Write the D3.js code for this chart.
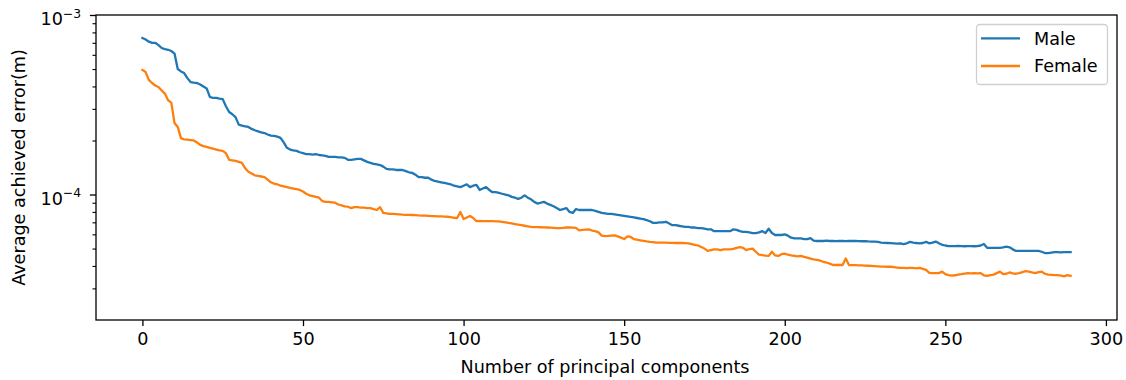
<!DOCTYPE html>
<html>
<head>
<meta charset="utf-8">
<script src="https://cdn.jsdelivr.net/npm/d3@7/dist/d3.min.js"></script>
<style>
  html, body { margin: 0; padding: 0; background: #fff; }
  svg { display: block; }
  text { font-family: "DejaVu Sans", sans-serif; fill: #000; }
</style>
</head>
<body>
<svg id="chart" width="1126" height="380"></svg>
<script>
// ---- data (values in metres) ----
const seriesNames = ["Male", "Female"];
const male = [
7.45e-4,7.30e-4,7.10e-4,7.00e-4,7.00e-4,6.80e-4,6.55e-4,6.45e-4,6.40e-4,6.30e-4,
6.10e-4,5.00e-4,4.85e-4,4.75e-4,4.45e-4,4.23e-4,4.20e-4,4.18e-4,4.10e-4,4.00e-4,
3.90e-4,3.50e-4,3.45e-4,3.45e-4,3.42e-4,3.40e-4,3.10e-4,2.88e-4,2.80e-4,2.70e-4,
2.45e-4,2.42e-4,2.40e-4,2.38e-4,2.32e-4,2.28e-4,2.25e-4,2.22e-4,2.20e-4,2.16e-4,
2.13e-4,2.12e-4,2.10e-4,2.07e-4,1.95e-4,1.82e-4,1.78e-4,1.76e-4,1.75e-4,1.72e-4,
1.70e-4,1.68e-4,1.68e-4,1.67e-4,1.68e-4,1.66e-4,1.65e-4,1.64e-4,1.62e-4,1.62e-4,
1.62e-4,1.61e-4,1.61e-4,1.60e-4,1.56e-4,1.56e-4,1.57e-4,1.58e-4,1.58e-4,1.55e-4,
1.52e-4,1.50e-4,1.48e-4,1.47e-4,1.46e-4,1.43e-4,1.39e-4,1.38e-4,1.38e-4,1.37e-4,
1.37e-4,1.37e-4,1.35e-4,1.33e-4,1.32e-4,1.29e-4,1.25e-4,1.25e-4,1.24e-4,1.24e-4,
1.21e-4,1.19e-4,1.18e-4,1.17e-4,1.16e-4,1.15e-4,1.14e-4,1.12e-4,1.11e-4,1.10e-4,
1.12e-4,1.14e-4,1.10e-4,1.12e-4,1.13e-4,1.06e-4,1.08e-4,1.10e-4,1.06e-4,1.03e-4,
1.03e-4,1.02e-4,1.01e-4,1.00e-4,0.99e-4,0.97e-4,0.96e-4,0.945e-4,0.96e-4,0.99e-4,
0.96e-4,0.94e-4,0.91e-4,0.89e-4,0.90e-4,0.91e-4,0.89e-4,0.875e-4,0.86e-4,0.84e-4,
0.82e-4,0.83e-4,0.84e-4,0.80e-4,0.79e-4,0.83e-4,0.82e-4,0.82e-4,0.82e-4,0.82e-4,
0.82e-4,0.81e-4,0.80e-4,0.79e-4,0.785e-4,0.78e-4,0.78e-4,0.775e-4,0.77e-4,0.765e-4,
0.76e-4,0.755e-4,0.75e-4,0.745e-4,0.74e-4,0.735e-4,0.73e-4,0.72e-4,0.71e-4,0.695e-4,
0.695e-4,0.70e-4,0.70e-4,0.705e-4,0.69e-4,0.675e-4,0.675e-4,0.67e-4,0.665e-4,0.66e-4,
0.66e-4,0.655e-4,0.655e-4,0.65e-4,0.65e-4,0.645e-4,0.64e-4,0.64e-4,0.625e-4,0.625e-4,
0.625e-4,0.625e-4,0.625e-4,0.625e-4,0.64e-4,0.635e-4,0.625e-4,0.62e-4,0.62e-4,0.615e-4,
0.61e-4,0.61e-4,0.615e-4,0.625e-4,0.61e-4,0.645e-4,0.61e-4,0.595e-4,0.595e-4,0.595e-4,
0.60e-4,0.59e-4,0.575e-4,0.57e-4,0.57e-4,0.57e-4,0.565e-4,0.565e-4,0.572e-4,0.553e-4,
0.551e-4,0.552e-4,0.551e-4,0.553e-4,0.551e-4,0.552e-4,0.550e-4,0.552e-4,0.551e-4,0.550e-4,
0.552e-4,0.551e-4,0.551e-4,0.550e-4,0.549e-4,0.550e-4,0.548e-4,0.547e-4,0.546e-4,0.545e-4,
0.540e-4,0.538e-4,0.537e-4,0.536e-4,0.535e-4,0.532e-4,0.535e-4,0.530e-4,0.535e-4,0.545e-4,
0.540e-4,0.537e-4,0.535e-4,0.537e-4,0.545e-4,0.535e-4,0.540e-4,0.547e-4,0.535e-4,0.525e-4,
0.520e-4,0.516e-4,0.516e-4,0.516e-4,0.517e-4,0.516e-4,0.515e-4,0.516e-4,0.516e-4,0.515e-4,
0.516e-4,0.520e-4,0.530e-4,0.505e-4,0.505e-4,0.504e-4,0.505e-4,0.505e-4,0.508e-4,0.512e-4,
0.508e-4,0.495e-4,0.485e-4,0.485e-4,0.486e-4,0.485e-4,0.485e-4,0.486e-4,0.485e-4,0.485e-4,
0.480e-4,0.472e-4,0.472e-4,0.475e-4,0.478e-4,0.478e-4,0.476e-4,0.478e-4,0.478e-4,0.478e-4
];
const female = [
4.94e-4,4.81e-4,4.35e-4,4.18e-4,4.05e-4,3.97e-4,3.80e-4,3.65e-4,3.35e-4,3.25e-4,
2.50e-4,2.38e-4,2.06e-4,2.03e-4,2.02e-4,2.01e-4,2.00e-4,1.95e-4,1.89e-4,1.86e-4,
1.84e-4,1.82e-4,1.80e-4,1.78e-4,1.76e-4,1.75e-4,1.70e-4,1.56e-4,1.55e-4,1.54e-4,
1.52e-4,1.50e-4,1.40e-4,1.34e-4,1.31e-4,1.28e-4,1.27e-4,1.26e-4,1.25e-4,1.21e-4,
1.17e-4,1.15e-4,1.14e-4,1.12e-4,1.11e-4,1.10e-4,1.09e-4,1.08e-4,1.07e-4,1.06e-4,
1.04e-4,1.01e-4,0.99e-4,0.98e-4,0.97e-4,0.96e-4,0.92e-4,0.91e-4,0.91e-4,0.905e-4,
0.90e-4,0.88e-4,0.87e-4,0.86e-4,0.855e-4,0.84e-4,0.85e-4,0.85e-4,0.845e-4,0.845e-4,
0.84e-4,0.84e-4,0.83e-4,0.82e-4,0.85e-4,0.79e-4,0.785e-4,0.78e-4,0.78e-4,0.778e-4,
0.775e-4,0.772e-4,0.77e-4,0.77e-4,0.769e-4,0.768e-4,0.765e-4,0.763e-4,0.762e-4,0.76e-4,
0.758e-4,0.757e-4,0.756e-4,0.755e-4,0.753e-4,0.752e-4,0.748e-4,0.742e-4,0.740e-4,0.80e-4,
0.73e-4,0.745e-4,0.76e-4,0.74e-4,0.71e-4,0.712e-4,0.711e-4,0.711e-4,0.71e-4,0.71e-4,
0.709e-4,0.708e-4,0.705e-4,0.70e-4,0.695e-4,0.69e-4,0.685e-4,0.68e-4,0.675e-4,0.67e-4,
0.665e-4,0.66e-4,0.659e-4,0.658e-4,0.657e-4,0.656e-4,0.655e-4,0.654e-4,0.652e-4,0.65e-4,
0.65e-4,0.652e-4,0.655e-4,0.655e-4,0.654e-4,0.652e-4,0.632e-4,0.635e-4,0.638e-4,0.64e-4,
0.63e-4,0.625e-4,0.615e-4,0.59e-4,0.587e-4,0.588e-4,0.59e-4,0.592e-4,0.585e-4,0.575e-4,
0.565e-4,0.585e-4,0.58e-4,0.565e-4,0.56e-4,0.556e-4,0.552e-4,0.548e-4,0.545e-4,0.543e-4,
0.54e-4,0.54e-4,0.539e-4,0.539e-4,0.538e-4,0.538e-4,0.537e-4,0.537e-4,0.537e-4,0.536e-4,
0.535e-4,0.53e-4,0.525e-4,0.52e-4,0.51e-4,0.50e-4,0.485e-4,0.49e-4,0.495e-4,0.495e-4,
0.49e-4,0.495e-4,0.495e-4,0.495e-4,0.498e-4,0.505e-4,0.51e-4,0.505e-4,0.49e-4,0.497e-4,
0.50e-4,0.48e-4,0.462e-4,0.46e-4,0.457e-4,0.455e-4,0.48e-4,0.458e-4,0.455e-4,0.465e-4,
0.468e-4,0.462e-4,0.458e-4,0.455e-4,0.452e-4,0.455e-4,0.45e-4,0.445e-4,0.44e-4,0.435e-4,
0.432e-4,0.428e-4,0.422e-4,0.418e-4,0.412e-4,0.405e-4,0.405e-4,0.405e-4,0.405e-4,0.44e-4,
0.405e-4,0.404e-4,0.404e-4,0.403e-4,0.403e-4,0.402e-4,0.401e-4,0.40e-4,0.399e-4,0.398e-4,
0.397e-4,0.397e-4,0.396e-4,0.396e-4,0.394e-4,0.392e-4,0.39e-4,0.39e-4,0.389e-4,0.39e-4,
0.39e-4,0.388e-4,0.39e-4,0.385e-4,0.38e-4,0.366e-4,0.365e-4,0.365e-4,0.365e-4,0.372e-4,
0.36e-4,0.356e-4,0.353e-4,0.355e-4,0.358e-4,0.36e-4,0.363e-4,0.365e-4,0.364e-4,0.365e-4,
0.364e-4,0.365e-4,0.355e-4,0.352e-4,0.356e-4,0.358e-4,0.365e-4,0.372e-4,0.36e-4,0.362e-4,
0.368e-4,0.364e-4,0.362e-4,0.365e-4,0.37e-4,0.374e-4,0.372e-4,0.368e-4,0.365e-4,0.37e-4,
0.372e-4,0.362e-4,0.358e-4,0.357e-4,0.356e-4,0.356e-4,0.353e-4,0.35e-4,0.356e-4,0.352e-4
];
const xTicks = [0, 50, 100, 150, 200, 250, 300];
const yMajorExps = [-3, -4];
const yDomain = [2e-5, 1e-3];
const xLabel = "Number of principal components";
const yLabel = "Average achieved error(m)";
const colors = ["#1f77b4", "#ff7f0e"];

// ---- layout ----
const FS = 17.6;
const svg = d3.select("#chart");
const L = 96, R = 1117, T = 15, B = 320;
const n = male.length;
const xPad = (n - 1) * 0.05;
const x = d3.scaleLinear().domain([0 - xPad, (n - 1) + xPad]).range([L, R]);
const y = d3.scaleLog().domain(yDomain).range([B, T]);

// lines
const line = d3.line().x((d, i) => x(i)).y(d => y(d));
[male, female].forEach((s, k) => {
  svg.append("path").datum(s)
    .attr("fill", "none").attr("stroke", colors[k])
    .attr("stroke-width", 2.3).attr("stroke-linejoin", "round").attr("stroke-linecap", "square")
    .attr("d", line);
});

// x axis
const xAxis = d3.axisBottom(x).tickValues(xTicks).tickSize(6.1).tickPadding(6).tickFormat(d3.format("d"));
const gx = svg.append("g").attr("transform", `translate(0,${B})`).call(xAxis);
gx.select(".domain").remove();
gx.selectAll(".tick line").attr("stroke", "#000").attr("stroke-width", 1.3);
gx.selectAll(".tick text").attr("font-size", FS + "px").attr("font-family", "DejaVu Sans").attr("dy", "0.74em");

// y axis ticks (major + minor)
const minor = [];
for (let e = -5; e <= -4; e++) for (let m = 2; m <= 9; m++) {
  const v = m * Math.pow(10, e);
  if (v > yDomain[0] * 1.0001 && v < yDomain[1]) minor.push(v);
}
const yMinorAxis = d3.axisLeft(y).tickValues(minor).tickSize(3.5).tickFormat("");
const gym = svg.append("g").attr("transform", `translate(${L},0)`).call(yMinorAxis);
gym.select(".domain").remove();
gym.selectAll(".tick line").attr("stroke", "#000").attr("stroke-width", 1.1);

const yMajorAxis = d3.axisLeft(y).tickValues(yMajorExps.map(e => Math.pow(10, e))).tickSize(6.1).tickFormat("");
const gy = svg.append("g").attr("transform", `translate(${L},0)`).call(yMajorAxis);
gy.select(".domain").remove();
gy.selectAll(".tick line").attr("stroke", "#000").attr("stroke-width", 1.3);
gy.selectAll(".tick").each(function(d) {
  const e = Math.round(Math.log10(d));
  const t = d3.select(this).append("text")
    .attr("x", -15).attr("y", 9.7)
    .attr("text-anchor", "end").attr("font-size", FS + "px");
  t.append("tspan").text("10");
  t.append("tspan").attr("font-size", (FS * 0.7) + "px").attr("dy", -7.3).text("\u2212" + Math.abs(e));
});

// frame
svg.append("rect").attr("x", L).attr("y", T).attr("width", R - L).attr("height", B - T)
  .attr("fill", "none").attr("stroke", "#000").attr("stroke-width", 1.3);

// axis labels
svg.append("text").attr("x", 605).attr("y", 372.5).attr("text-anchor", "middle")
  .attr("font-size", FS + "px").text(xLabel);
svg.append("text").attr("transform", `translate(25,${(T + B) / 2}) rotate(-90)`)
  .attr("text-anchor", "middle").attr("font-size", FS + "px").text(yLabel);

// legend
const lg = svg.append("g");
lg.append("rect").attr("x", 976.5).attr("y", 24.5).attr("width", 131).attr("height", 60)
  .attr("rx", 3.5).attr("fill", "#fff").attr("fill-opacity", 0.8).attr("stroke", "#d0d0d0").attr("stroke-width", 1.3);
seriesNames.forEach((name, k) => {
  const ly = 38.3 + k * 27.7;
  lg.append("line").attr("x1", 981).attr("x2", 1020).attr("y1", ly).attr("y2", ly)
    .attr("stroke", colors[k]).attr("stroke-width", 2.3);
  lg.append("text").attr("x", 1034).attr("y", ly).attr("dy", "0.36em")
    .attr("font-size", FS + "px").text(name);
});
</script>
</body>
</html>
